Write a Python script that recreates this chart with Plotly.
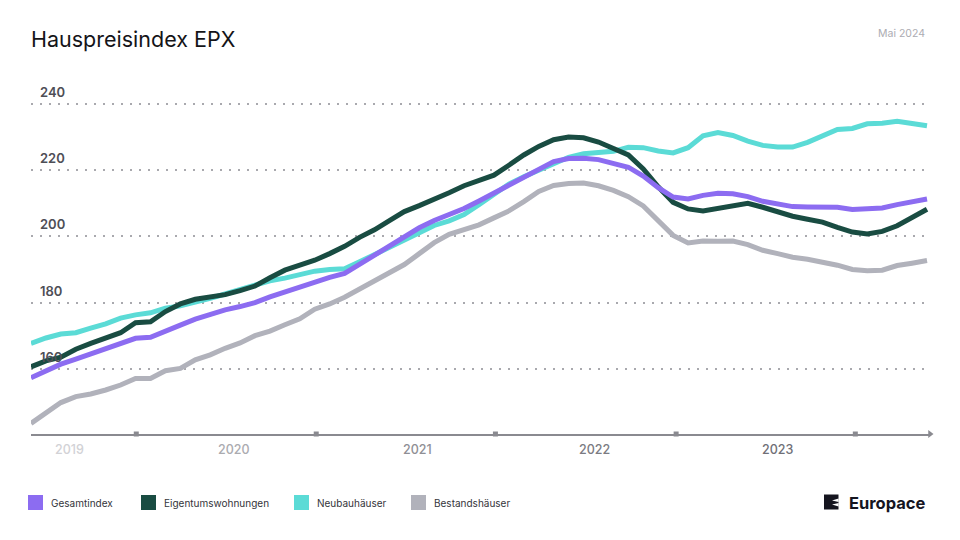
import plotly.graph_objects as go

# ---- data (monthly index values) ----
months = [f"{2019 + (4 + i) // 12}-{(4 + i) % 12 + 1:02d}" for i in range(61)]  # 2019-05 .. 2024-05

gesamtindex = [157.3, 159.4, 161.4, 162.9, 164.5, 165.9, 167.5, 169.2, 169.5, 171.5,
               173.2, 175.0, 176.5, 177.8, 178.8, 180.0, 181.7, 183.2, 184.7, 186.3,
               187.6, 188.8, 191.6, 194.3, 197.2, 200.1, 202.6, 204.8, 206.5, 208.4,
               210.7, 213.0, 215.3, 218.0, 220.3, 222.6, 223.5, 223.6, 223.2, 222.1,
               220.9, 218.2, 214.7, 211.9, 211.3, 212.4, 213.0, 212.9, 212.0, 210.6,
               209.7, 209.0, 208.9, 209.0, 208.8, 208.1, 208.2, 208.6, 209.6, 210.4,
               211.3]

eigentumswohnungen = [160.6, 162.4, 163.5, 165.9, 167.7, 169.4, 170.9, 173.9, 174.2, 177.3,
                      179.6, 181.0, 181.8, 182.4, 183.6, 185.0, 187.5, 189.8, 191.3, 192.8,
                      194.8, 197.0, 199.7, 202.0, 204.8, 207.5, 209.3, 211.1, 213.2, 215.3,
                      216.8, 218.5, 221.5, 224.6, 227.2, 229.2, 230.0, 229.8, 228.5, 226.7,
                      224.6, 220.4, 215.0, 210.3, 208.3, 207.7, 208.5, 209.3, 210.0, 208.8,
                      207.3, 206.1, 205.2, 204.3, 202.7, 201.3, 200.7, 201.5, 203.2, 205.7,
                      208.2]

neubauhaeuser = [167.7, 169.3, 170.5, 170.9, 172.3, 173.6, 175.3, 176.3, 176.9, 178.3,
                 179.0, 180.0, 181.3, 182.6, 184.0, 185.3, 186.6, 187.4, 188.5, 189.5,
                 190.0, 190.2, 192.3, 194.5, 196.8, 199.0, 201.1, 203.3, 204.7, 206.6,
                 209.6, 212.6, 215.8, 218.0, 220.0, 222.2, 223.9, 225.0, 225.5, 225.7,
                 226.9, 226.8, 225.8, 225.2, 226.8, 230.4, 231.4, 230.5, 228.8, 227.5,
                 227.0, 227.0, 228.4, 230.2, 232.3, 232.6, 234.0, 234.2, 234.8, 234.1,
                 233.4]

bestandshaeuser = [143.5, 146.6, 149.8, 151.6, 152.4, 153.6, 155.1, 157.1, 157.1, 159.4,
                   160.1, 162.7, 164.2, 166.2, 167.8, 170.0, 171.4, 173.3, 175.1, 178.0,
                   179.6, 181.6, 184.1, 186.8, 189.1, 191.5, 194.8, 198.1, 200.6, 202.0,
                   203.5, 205.6, 207.7, 210.5, 213.6, 215.4, 216.0, 216.1, 215.3, 213.9,
                   212.0, 209.2, 204.5, 200.3, 198.0, 198.6, 198.5, 198.6, 197.5, 195.8,
                   194.8, 193.7, 193.1, 192.3, 191.3, 190.0, 189.6, 189.8, 191.2, 191.9,
                   192.7]

y_ticks = [160, 180, 200, 220, 240]
year_labels = ["2019", "2020", "2021", "2022", "2023"]
year_label_pos = [2.6, 13.6, 25.9, 37.7, 50.0]          # month-index positions
year_label_colors = ["#d2d2d6", "#ababb0", "#8f8f95", "#7b7b82", "#707077"]
tick_marks = [7.05, 19.1, 31.1, 43.2, 55.2]

series_names = ["Gesamtindex", "Eigentumswohnungen", "Neubauhäuser", "Bestandshäuser"]
series_colors = ["#8c6cf1", "#194c42", "#5bdbd6", "#b1b2bb"]

# ---- layout geometry (window coordinates; page body has an 8px margin) ----
OFF = 8
W, H = 960 - OFF, 540 - OFF
PL, PR, PT, PB = 31, 930, 80, 434          # plot area in window px
L, R, T, B = PL - OFF, (W + OFF) - PR, PT - OFF, (H + OFF) - PB
pw, ph = PR - PL, PB - PT
X_MAX = 60.2
Y_MIN = 140.3
Y_MAX = Y_MIN + ph / 3.31


def px_x(px):
    return (px - PL) / pw


def px_y(py):
    return (PB - py) / ph


x_idx = list(range(len(months)))

fig = go.Figure()

draw_order = [3, 2, 1, 0]
series_values = [gesamtindex, eigentumswohnungen, neubauhaeuser, bestandshaeuser]
for k in draw_order:
    fig.add_trace(go.Scatter(
        x=x_idx, y=series_values[k], mode="lines", name=series_names[k],
        text=months, hovertemplate="%{text}: %{y}<extra>" + series_names[k] + "</extra>",
        line=dict(color=series_colors[k], width=5, shape="linear"),
        showlegend=False,
    ))

# tick squares on the axis
fig.add_trace(go.Scatter(
    x=tick_marks, y=[Y_MIN] * len(tick_marks), mode="markers",
    marker=dict(symbol="square", size=5, color="#8a8a90"),
    cliponaxis=False, showlegend=False, hoverinfo="skip",
))
# arrow head at end of axis
fig.add_trace(go.Scatter(
    x=[X_MAX], y=[Y_MIN], mode="markers",
    marker=dict(symbol="triangle-right", size=7, color="#8a8a90"),
    cliponaxis=False, showlegend=False, hoverinfo="skip",
))

annotations = []
# y labels
for v in y_ticks:
    annotations.append(dict(
        x=px_x(38), xref="paper", y=v, yref="y", yshift=12,
        text=str(v), showarrow=False, xanchor="left", yanchor="middle",
        font=dict(family="Inter", size=13, color="#4e4e56", weight=600),
    ))
# x labels
for lab, pos, col in zip(year_labels, year_label_pos, year_label_colors):
    annotations.append(dict(
        x=pos, xref="x", y=Y_MIN, yref="y", yshift=-15,
        text=lab, showarrow=False, xanchor="center", yanchor="middle",
        font=dict(family="Inter", size=12.5, color=col, weight=500),
    ))
# title
annotations.append(dict(
    x=px_x(29), xref="paper", y=px_y(39), yref="paper",
    text="Hauspreisindex EPX", showarrow=False, xanchor="left", yanchor="middle",
    font=dict(family="Inter", size=21.5, color="#141418"),
))
annotations.append(dict(
    x=px_x(927), xref="paper", y=px_y(34), yref="paper",
    text="Mai 2024", showarrow=False, xanchor="right", yanchor="middle",
    font=dict(family="Inter", size=10.5, color="#acacb2"),
))

# legend
legend_sq_x = [28, 141, 294, 411]
shapes = []
for name, col, sx in zip(series_names, series_colors, legend_sq_x):
    shapes.append(dict(
        type="rect", xref="paper", yref="paper",
        x0=px_x(sx), x1=px_x(sx + 15), y0=px_y(510), y1=px_y(495),
        fillcolor=col, line=dict(width=0),
    ))
    annotations.append(dict(
        x=px_x(sx + 21), xref="paper", y=px_y(502.5), yref="paper",
        text=name, showarrow=False, xanchor="left", yanchor="middle",
        font=dict(family="Inter", size=10, color="#34343a"),
    ))

# Europace logo
shapes.append(dict(type="rect", xref="paper", yref="paper",
                   x0=px_x(824), x1=px_x(838.5), y0=px_y(509.5), y1=px_y(494.5),
                   fillcolor="#15151f", line=dict(width=0)))
shapes.append(dict(type="path", xref="paper", yref="paper",
                   path=(f"M {px_x(838.6)},{px_y(498.5)} L {px_x(832)},{px_y(500.5)} "
                         f"L {px_x(838.6)},{px_y(502)} Z"),
                   fillcolor="white", line=dict(width=0)))
shapes.append(dict(type="path", xref="paper", yref="paper",
                   path=(f"M {px_x(838.6)},{px_y(503)} L {px_x(832)},{px_y(504.5)} "
                         f"L {px_x(838.6)},{px_y(506.5)} Z"),
                   fillcolor="white", line=dict(width=0)))
annotations.append(dict(
    x=px_x(847), xref="paper", y=px_y(502.5), yref="paper",
    text="Europace", showarrow=False, xanchor="left", yanchor="middle",
    font=dict(family="Inter", size=16.5, color="#15151f", weight=700),
))

fig.update_layout(
    width=W, height=H,
    margin=dict(l=L, r=R, t=T, b=B),
    paper_bgcolor="white", plot_bgcolor="white",
    showlegend=False,
    xaxis=dict(range=[0, X_MAX], showgrid=False, zeroline=False, showticklabels=False,
               ticks="", showline=True, linecolor="#8a8a90", linewidth=1.5, fixedrange=True),
    yaxis=dict(range=[Y_MIN, Y_MAX], tickvals=y_ticks, showgrid=True,
               gridcolor="#a9a9ae", gridwidth=2, griddash="2px,7px",
               zeroline=False, showticklabels=False, ticks="", showline=False, fixedrange=True),
    annotations=annotations,
    shapes=shapes,
)

fig.write_html("out.html")
